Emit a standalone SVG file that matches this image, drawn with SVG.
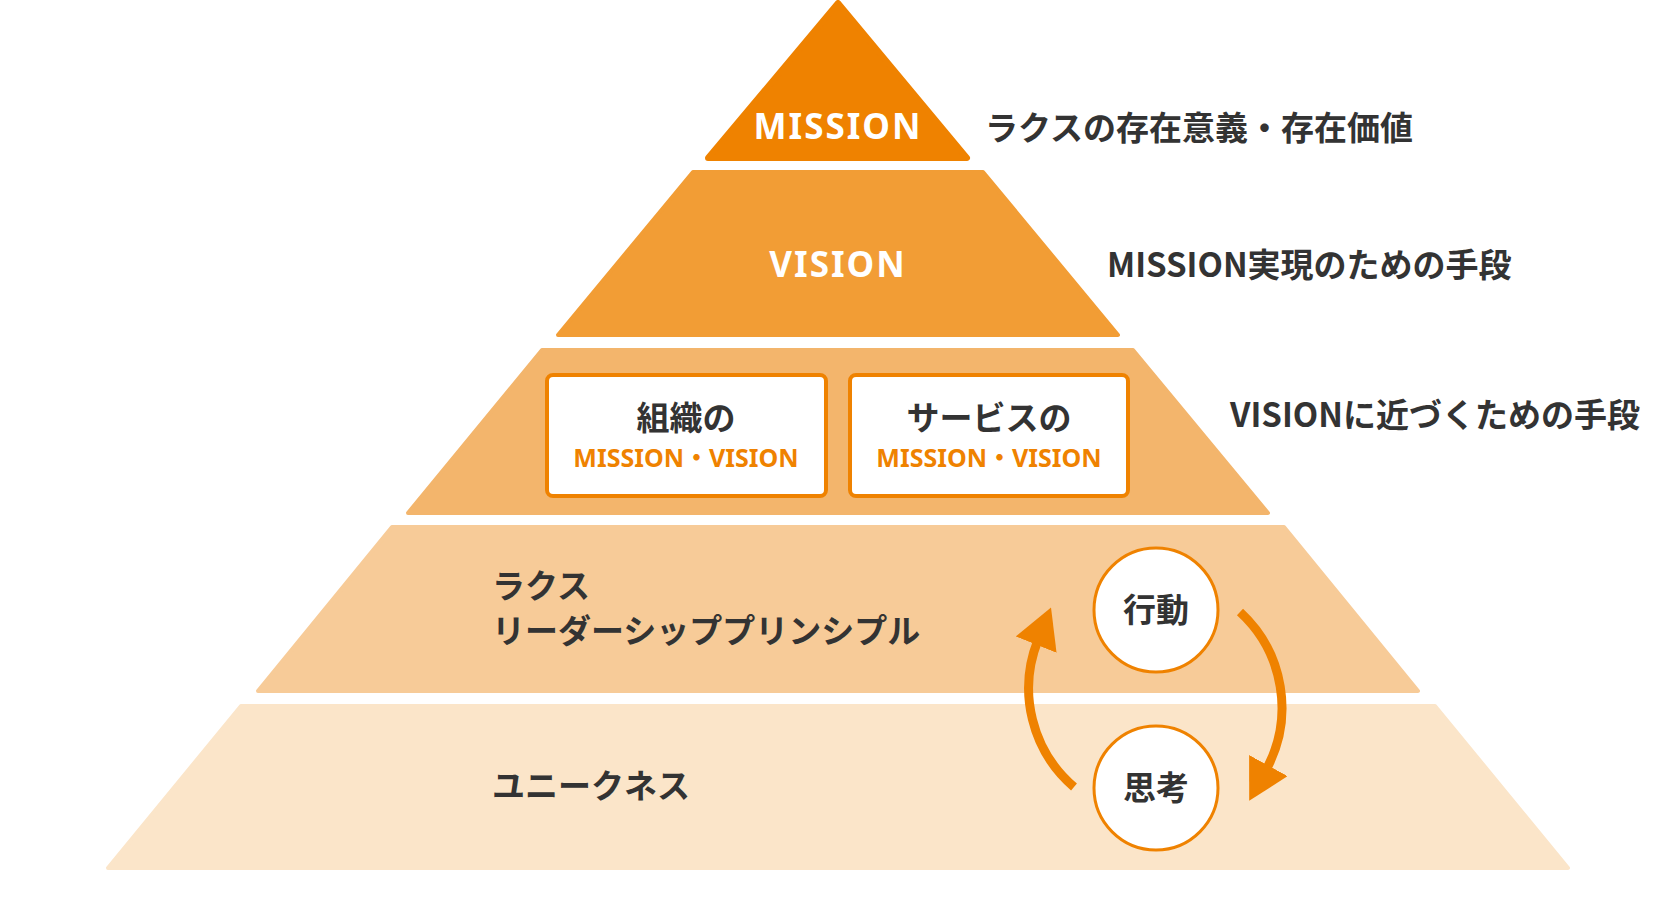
<svg xmlns="http://www.w3.org/2000/svg" width="1676" height="912" viewBox="0 0 1676 912">
<defs>
<style>
.jp{font-family:"Noto Sans CJK JP","Noto Sans",sans-serif;font-weight:700;fill:#333;font-size:33px}
.en{font-family:"Noto Sans","Open Sans",sans-serif;font-weight:700}
.sub{font-family:"Noto Sans","Noto Sans CJK JP",sans-serif;font-weight:700;fill:#EF8200;font-size:25px}
.box{fill:#fff;stroke:#EF8200;stroke-width:4}
.arc{fill:none;stroke:#EF8200;stroke-width:9}
</style>
<marker id="ah" markerUnits="userSpaceOnUse" markerWidth="50" markerHeight="50" refX="5" refY="22" orient="auto">
<path d="M0,0 L40,22 L0,44 Z" fill="#EF8200"/>
</marker>
</defs>
<rect width="1676" height="912" fill="#fff"/>
<g id="layer-mission">
<path d="M838,3 L967,158 L708,158 Z" fill="#EF8200" stroke="#EF8200" stroke-width="6" stroke-linejoin="round"/>
<text x="838" y="139" text-anchor="middle" class="en" font-size="35" fill="#fff" letter-spacing="2">MISSION</text>
</g>
<g id="layer-vision">
<path d="M693,172 L983,172 L1118,335 L558,335 Z" fill="#F29D35" stroke="#F29D35" stroke-width="4" stroke-linejoin="round"/>
<text x="838" y="277" text-anchor="middle" class="en" font-size="35" fill="#fff" letter-spacing="2">VISION</text>
</g>
<g id="layer-3">
<path d="M542,350 L1133,350 L1268,513 L408,513 Z" fill="#F3B56C" stroke="#F3B56C" stroke-width="4" stroke-linejoin="round"/>
</g>
<g id="box-org">
<rect x="547" y="375" width="279" height="121" rx="6" class="box"/>
<text x="686" y="430" text-anchor="middle" class="jp">組織の</text>
<text x="686" y="467" text-anchor="middle" class="sub">MISSION・VISION</text>
</g>
<g id="box-service">
<rect x="850" y="375" width="278" height="121" rx="6" class="box"/>
<text x="989" y="430" text-anchor="middle" class="jp">サービスの</text>
<text x="989" y="467" text-anchor="middle" class="sub">MISSION・VISION</text>
</g>
<g id="layer-4">
<path d="M392,527 L1284,527 L1418,691 L258,691 Z" fill="#F7CB98" stroke="#F7CB98" stroke-width="4" stroke-linejoin="round"/>
<text x="492" y="598" class="jp">ラクス</text>
<text x="492" y="643" class="jp">リーダーシッププリンシプル</text>
</g>
<g id="layer-5">
<path d="M241,706 L1435,706 L1568,868 L108,868 Z" fill="#FBE5C9" stroke="#FBE5C9" stroke-width="4" stroke-linejoin="round"/>
<text x="492" y="798" class="jp">ユニークネス</text>
</g>
<g id="connectors">
<path d="M1240,612 A130,130 0 0 1 1266,770" class="arc" marker-end="url(#ah)"/>
<path d="M1074,787 A130,130 0 0 1 1038,640" class="arc" marker-end="url(#ah)"/>
</g>
<g id="node-action">
<circle cx="1156" cy="610" r="62" fill="#fff" stroke="#EF8200" stroke-width="3"/>
<text x="1156" y="622" text-anchor="middle" class="jp">行動</text>
</g>
<g id="node-thinking">
<circle cx="1156" cy="788" r="62" fill="#fff" stroke="#EF8200" stroke-width="3"/>
<text x="1156" y="800" text-anchor="middle" class="jp">思考</text>
</g>
<g id="labels">
<text x="985" y="140" class="jp">ラクスの存在意義・存在価値</text>
<text x="1107" y="277" class="jp">MISSION実現のための手段</text>
<text x="1230" y="427" class="jp">VISIONに近づくための手段</text>
</g>
</svg>
